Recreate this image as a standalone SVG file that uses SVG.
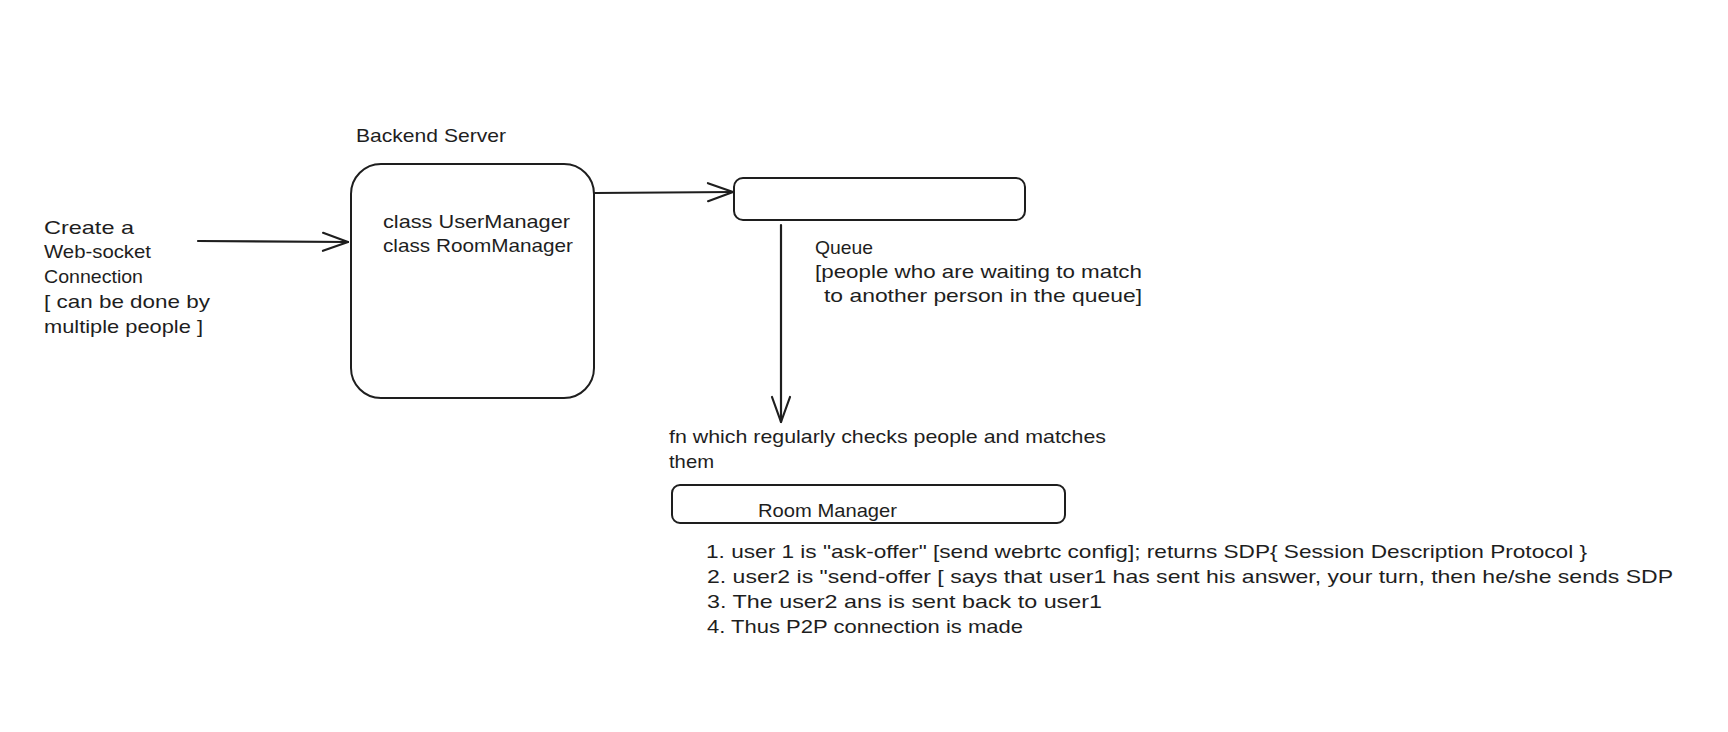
<svg xmlns="http://www.w3.org/2000/svg" width="1728" height="732" viewBox="0 0 1728 732">
<style>
  .t { font-family: "Liberation Sans", "DejaVu Sans", sans-serif; font-size: 19px; fill: #1e1e1e; }
  .box { fill: none; stroke: #1e1e1e; stroke-width: 2; stroke-linejoin: round; }
  .edge { fill: none; stroke: #1e1e1e; stroke-width: 2.2; stroke-linecap: round; }
</style>
<defs>
  <marker id="arr" markerUnits="userSpaceOnUse" viewBox="0 0 30 24" markerWidth="30" markerHeight="24" refX="28" refY="12" orient="auto">
    <path d="M3,3 L28,12 L3,21" fill="none" stroke="#1e1e1e" stroke-width="2.2" stroke-linecap="round" stroke-linejoin="round"/>
  </marker>
</defs>
<rect width="1728" height="732" fill="#ffffff"/>

<g id="websocket-label">
  <text class="t" x="44" y="234" textLength="90" lengthAdjust="spacingAndGlyphs">Create a</text>
  <text class="t" x="44" y="258" textLength="107" lengthAdjust="spacingAndGlyphs">Web-socket</text>
  <text class="t" x="44" y="283" textLength="99" lengthAdjust="spacingAndGlyphs">Connection</text>
  <text class="t" x="44" y="308" textLength="166" lengthAdjust="spacingAndGlyphs">[ can be done by</text>
  <text class="t" x="44" y="333" textLength="159" lengthAdjust="spacingAndGlyphs">multiple people ]</text>
</g>

<g id="backend-server">
  <text class="t" x="356" y="142" textLength="150" lengthAdjust="spacingAndGlyphs">Backend Server</text>
  <rect class="box" x="351" y="164" width="243" height="234" rx="30" ry="30"/>
  <text class="t" x="383" y="228" textLength="187" lengthAdjust="spacingAndGlyphs">class UserManager</text>
  <text class="t" x="383" y="252" textLength="190" lengthAdjust="spacingAndGlyphs">class RoomManager</text>
</g>

<g id="queue">
  <rect class="box" x="734" y="178" width="291" height="42" rx="9" ry="9"/>
  <text class="t" x="815" y="254" textLength="58" lengthAdjust="spacingAndGlyphs">Queue</text>
  <text class="t" x="815" y="278" textLength="327" lengthAdjust="spacingAndGlyphs">[people who are waiting to match</text>
  <text class="t" x="824" y="302" textLength="318" lengthAdjust="spacingAndGlyphs">to another person in the queue]</text>
</g>

<g id="matcher-label">
  <text class="t" x="669" y="443" textLength="437" lengthAdjust="spacingAndGlyphs">fn which regularly checks people and matches</text>
  <text class="t" x="669" y="468" textLength="45" lengthAdjust="spacingAndGlyphs">them</text>
</g>

<g id="room-manager">
  <rect class="box" x="672" y="485" width="393" height="38" rx="8" ry="8"/>
  <text class="t" x="758" y="517" textLength="139" lengthAdjust="spacingAndGlyphs">Room Manager</text>
</g>

<g id="steps">
  <text class="t" x="706" y="558" textLength="881" lengthAdjust="spacingAndGlyphs">1. user 1 is "ask-offer" [send webrtc config]; returns SDP{ Session Description Protocol }</text>
  <text class="t" x="707" y="583" textLength="966" lengthAdjust="spacingAndGlyphs">2. user2 is "send-offer [ says that user1 has sent his answer, your turn, then he/she sends SDP</text>
  <text class="t" x="707" y="608" textLength="395" lengthAdjust="spacingAndGlyphs">3. The user2 ans is sent back to user1</text>
  <text class="t" x="707" y="633" textLength="316" lengthAdjust="spacingAndGlyphs">4. Thus P2P connection is made</text>
</g>

<g id="connectors">
  <path class="edge" d="M198,241 L348,242" marker-end="url(#arr)"/>
  <path class="edge" d="M595,193 L733,192" marker-end="url(#arr)"/>
  <path class="edge" d="M781,225 L781,422" marker-end="url(#arr)"/>
</g>
</svg>
